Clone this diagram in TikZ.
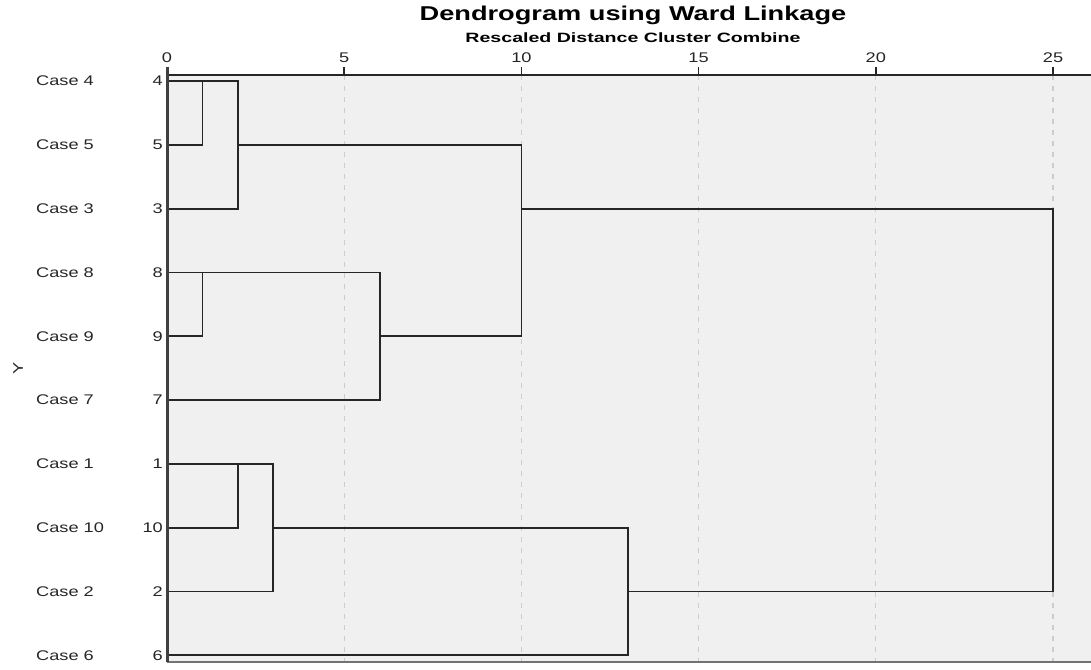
\documentclass[tikz,border=0pt]{standalone}
\usepackage{fontspec}
\setmainfont{Liberation Sans}
\usepackage{graphicx}
\newcommand{\hs}[1]{\scalebox{1.3}[1]{#1}}
\begin{document}
\begin{tikzpicture}[x=1pt,y=-1pt,
		case/.style={anchor=west,inner sep=0pt,text=black!85,font=\fontsize{14}{14}\selectfont},
		num/.style={anchor=east,inner sep=0pt,text=black!85,font=\fontsize{14}{14}\selectfont},
		tick/.style={anchor=south,inner sep=0pt,text=black!85,font=\fontsize{14}{14}\selectfont},
		link/.style={line width=1.8pt,black!85},
		gridline/.style={line width=1.3pt,black!20,dash pattern=on 5pt off 6pt} ]
	\useasboundingbox (0,0) rectangle (1091,669);
	\fill[black!6] (167,75) rectangle (1091,662);
	\coordinate (axisend) at (1091,75);
	\coordinate (bottom) at (167,662);
	\coordinate (bottomend) at (1091,662);
	\foreach \d in {0,...,25}
		\coordinate (d\d) at (167+35.44*\d,75);
	\foreach \d in {5,10,...,25}
		\draw[gridline] (d\d) -- (d\d |- bottom);
	\foreach \d in {0,5,...,25} {
		\draw[line width=1.5pt,black!85] (d\d) -- ++(0,-8.5);
		\node[tick] (t\d) at (167+35.44*\d,63) {\hs{\d}};
	}
	\draw[line width=1.5pt,black!85] (d0) -- (axisend);
	\draw[line width=2pt,black!55] (bottom) -- (bottomend);
	\foreach \k/\i in {4/0,5/1,3/2,8/3,9/4,7/5,1/6,10/7,2/8,6/9} {
		\node[case] (c\k) at (36,81+63.8*\i) {\hs{Case \k}};
		\node[num] (n\k) at (163,81+63.8*\i) {\hs{\k}};
		\coordinate (l\k) at (167,81+63.8*\i);
	}
	\draw[link] (l4) -| (l3 -| d2) -- (l3);
	\draw[link] (l5) -| (l4 -| d1);
	\draw[link] (l5 -| d2) -| (l9 -| d10) -- (l9 -| d6);
	\draw[link] (l8) -| (l7 -| d6) -- (l7);
	\draw[link] (l9) -| (l8 -| d1);
	\draw[link] (l3 -| d10) -| (l2 -| d25) -- (l2 -| d13);
	\draw[link] (l1) -| (l2 -| d3) -- (l2);
	\draw[link] (l10) -| (l1 -| d2);
	\draw[link] (l10 -| d3) -| (l6 -| d13) -- (l6);
	\draw[line width=3pt,black!75] (167,66.5) -- (bottom);
	\node[case,anchor=center,rotate=90] (ylabel) at (18,368) {\hs{Y}};
	\node (title) at (633,15) {\fontsize{20}{20}\selectfont\bfseries\scalebox{1.36}[1]{Dendrogram using Ward Linkage}};
	\node (subtitle) at (633,38) {\fontsize{13.5}{13.5}\selectfont\bfseries\scalebox{1.45}[1]{Rescaled Distance Cluster Combine}};
\end{tikzpicture}
\end{document}
